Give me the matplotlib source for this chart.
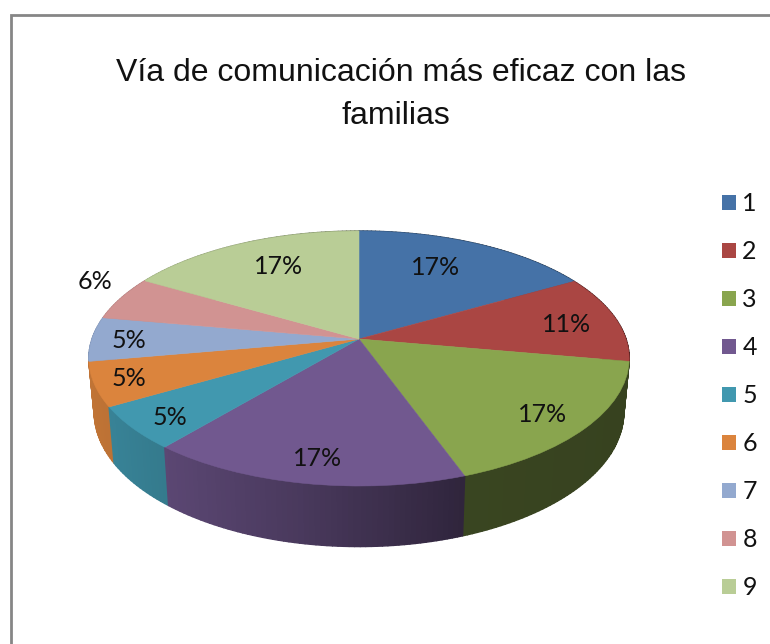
import numpy as np
import matplotlib
matplotlib.use("Agg")
import matplotlib.pyplot as plt
from matplotlib.collections import PolyCollection
from matplotlib.colors import to_rgb
from matplotlib.lines import Line2D
from matplotlib.patches import Patch
from matplotlib.transforms import Transform

title_lines = ["Vía de comunicación más eficaz con las", "familias"]
categories = ["1", "2", "3", "4", "5", "6", "7", "8", "9"]
values = [16.7, 11.1, 16.7, 16.6, 5.5, 5.6, 5.6, 5.6, 16.6]
pct_labels = ["17%", "11%", "17%", "17%", "5%", "5%", "5%", "6%", "17%"]
colors = ["#4572A7", "#AA4643", "#89A54E", "#71588F", "#4198AF",
          "#DB843D", "#93A9CF", "#D19392", "#B9CD96"]
label_xy = [(436, 267), (567, 324), (543, 414), (318, 458), (170, 417),
            (129, 378), (129, 340), (95, 281), (279, 266)]
title_xy = [(401, 73), (396, 116)]

CX, CY = 359.0, 339.0
A, B, K = 124.5, 267.0, 0.153


class Perspective(Transform):
    input_dims = output_dims = 2

    def transform_non_affine(self, pts):
        pts = np.asarray(pts, float)
        w = 1 + K * pts[:, 1]
        return np.column_stack([CX + B * pts[:, 0] / w, CY - A * pts[:, 1] / w])


persp = Perspective()


def lower(xy):
    """Rim point moved to the bottom face of the disc."""
    return np.column_stack([CX + (xy[:, 0] - CX) * 0.98,
                            CY + (xy[:, 1] - CY) * 1.055 + 52.5])


fig = plt.figure(figsize=(7.7, 6.44), dpi=100)
ax = fig.add_axes([0, 0, 1, 1])

wedges, _ = ax.pie(values, colors=colors, startangle=90, counterclock=False)
ax.set_aspect("auto")
ax.set_xlim(0, 770)
ax.set_ylim(644, 0)
ax.axis("off")

for w in wedges:
    w.set_transform(persp + ax.transData)
    w.set_edgecolor(w.get_facecolor())
    w.set_linewidth(0.4)
    w.set_zorder(3)

# side wall, drawn as thin strips shaded from left to right, back to front
strips = []
for w, col in zip(wedges, colors):
    n = max(int(abs(w.theta2 - w.theta1)), 2)
    th = np.deg2rad(np.linspace(w.theta1, w.theta2, n))
    top = persp.transform_non_affine(np.column_stack([np.cos(th), np.sin(th)]))
    bot = lower(top)
    base = np.array(to_rgb(col))
    for i in range(n - 1):
        xm = (top[i, 0] + top[i + 1, 0]) / 2 - CX
        shade = np.interp(xm, [-270, -190, -60, 105, 270],
                          [0.88, 0.80, 0.65, 0.42, 0.40])
        strips.append(((top[i, 1] + top[i + 1, 1]) / 2,
                       [top[i], top[i + 1], bot[i + 1], bot[i]], base * shade))
strips.sort(key=lambda s: s[0])
quads = [s[1] for s in strips]
quad_colors = [s[2] for s in strips]
ax.add_collection(PolyCollection(quads, facecolors=quad_colors,
                                 edgecolors=quad_colors, linewidths=1.0, zorder=2))

for txt, (x, y) in zip(pct_labels, label_xy):
    ax.text(x, y, txt, ha="center", va="center", fontsize=18, family="Lato",
            color="#111111", zorder=4)

for txt, (x, y) in zip(title_lines, title_xy):
    ax.text(x, y, txt, ha="center", va="center", fontsize=23,
            family="Liberation Sans", color="#111111")

ax.add_line(Line2D([10.5, 10.5, 770], [644, 14.5, 14.5], color="#868686",
                   lw=2.0, solid_joinstyle="miter", zorder=5))

handles = [Patch(facecolor=c, edgecolor="none", label=t)
           for c, t in zip(colors, categories)]
leg = ax.legend(handles=handles, loc="center left",
                bbox_to_anchor=(722 / 770, 1 - 395.5 / 644), frameon=False,
                prop={"family": "Lato", "size": 18},
                handlelength=0.56, handleheight=0.56, handletextpad=0.25,
                labelspacing=1.0, borderpad=0, borderaxespad=0)
for t in leg.get_texts():
    t.set_color("#111111")

fig.savefig("out.png", dpi=100, facecolor="white")
